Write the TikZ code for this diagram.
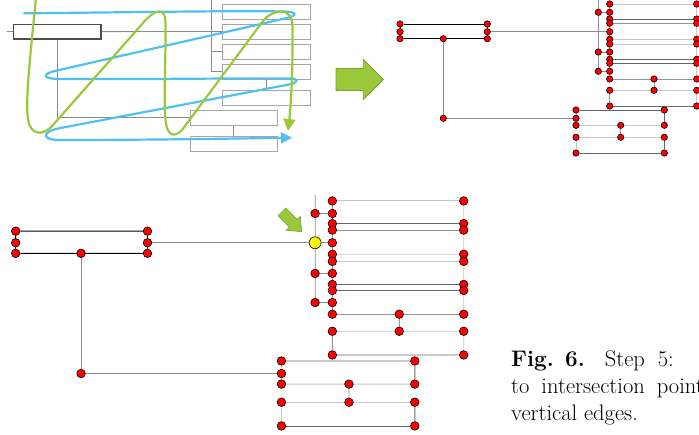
\documentclass[tikz,border=0pt]{standalone}
\usepackage{fontspec}
\usepackage{tikz}
\usetikzlibrary{arrows.meta}
\definecolor{blueline}{HTML}{4FC0F3}
\definecolor{greenline}{HTML}{9BC83A}
\definecolor{greenedge}{HTML}{7DA32C}
\definecolor{boxgray}{HTML}{A6A6A6}
\pgfdeclarelayer{edges}
\pgfsetlayers{edges,main}
\tikzset{
  box/.style={draw=boxgray, line width=0.9pt, inner sep=0pt, minimum height=15pt},
  mainbox/.style={box, draw=black!70, line width=1.1pt},
  wire/.style={draw=black!45, line width=0.8pt},
  edgemain/.style={draw=black, line width=0.9pt},
  edgedk/.style={draw=black!60, line width=0.9pt},
  edgemid/.style={draw=black!42, line width=0.9pt},
  edgelt/.style={draw=black!22, line width=0.9pt},
  dot/.style={circle, fill=red, draw=black, line width=0.6pt, inner sep=0pt, minimum size=6.4pt},
  newdot/.style={dot, fill=yellow, minimum size=12pt},
  sweep/.style={line width=2.2pt, line cap=round, line join=round},
  bigarrow/.style={fill=greenline, draw=greenedge, line width=0.8pt},
  captext/.style={anchor=base west, inner sep=0pt, font=\fontsize{22.5}{27.5}\selectfont},
}

% dotted version of the layout, #1 = name prefix
\newcommand{\dotgraph}[1]{%
  \node[dot] (#1a1) at (13.3,24) {};
  \node[dot] (#1a2) at (13.3,31.7) {};
  \node[dot] (#1a3) at (13.3,38.7) {};
  \node[dot] (#1b1) at (100.6,24) {};
  \node[dot] (#1b2) at (100.6,31.7) {};
  \node[dot] (#1b3) at (100.6,38.7) {};
  \node[dot] (#1c) at (56.6,38.7) {};
  \node[dot] (#1d) at (56.6,118.3) {};
  \coordinate (#1top) at (211.6,0);
  \foreach \i/\yt/\ym/\yb in {1/4/12.3/19,2/23.3/31.7/39.3,3/44/52/59.3,4/63.3/71.3/79}{
    \node[dot] (#1l\i t) at (223,\yt) {};
    \node[dot] (#1l\i m) at (223,\ym) {};
    \node[dot] (#1l\i b) at (223,\yb) {};
    \node[dot] (#1r\i t) at (310,\yt) {};
    \node[dot] (#1r\i b) at (310,\yb) {};
  }
  \foreach \i/\y in {1/12.3,3/52,4/71.3}
    \node[dot] (#1t\i) at (211.6,\y) {};
  \node[dot] (#1k4) at (267.3,79) {};
  \node[dot] (#1k5) at (267.3,90.3) {};
  \node[dot] (#1l5t) at (223,90.3) {};
  \node[dot] (#1r5t) at (310,90.3) {};
  \node[dot] (#1l5b) at (223,106) {};
  \node[dot] (#1r5b) at (310,106) {};
  % lower pair
  \node[dot] (#1u1t) at (189.3,110) {};
  \node[dot] (#1u1m) at (189.3,118.3) {};
  \node[dot] (#1u1b) at (189.3,125.3) {};
  \node[dot] (#1v1t) at (277.6,110) {};
  \node[dot] (#1v1b) at (277.6,125.3) {};
  \node[dot] (#1w1) at (234,125.3) {};
  \node[dot] (#1w2) at (234,137.3) {};
  \node[dot] (#1u2t) at (189.3,137.3) {};
  \node[dot] (#1v2t) at (277.6,137.3) {};
  \node[dot] (#1u2b) at (189.3,153) {};
  \node[dot] (#1v2b) at (277.6,153) {};
  \begin{pgfonlayer}{edges}
    \draw[edgemain] (#1a1) -- (#1b1) (#1a3) -- (#1b3) (#1a1) -- (#1a3) (#1b1) -- (#1b3);
    \draw[wire] (#1a2) -- ++(-3,0);
    \draw[wire] (#1b2) -- (#1l2m);
    \draw[wire] (#1c) -- (#1d) -- (#1u1m);
    \draw[wire] (#1top) -- (#1t4);
    \foreach \i in {1,3,4}
      \draw[wire] (#1t\i) -- (#1l\i m);
    \foreach \i/\st/\sb in {1/edgelt/edgedk,2/edgemid/edgelt,3/edgelt/edgedk,4/edgedk/edgemid,5/edgelt/edgedk}{
      \draw[\st] (#1l\i t) -- (#1r\i t);
      \draw[\sb] (#1l\i b) -- (#1r\i b);
      \draw[edgemid] (#1l\i t) -- (#1l\i b);
      \draw[edgelt] (#1r\i t) -- (#1r\i b);
    }
    \draw[edgemid] (#1k4) -- (#1k5);
    \draw[edgedk] (#1u1t) -- (#1v1t);
    \draw[edgelt] (#1u1b) -- (#1v1b);
    \draw[edgelt] (#1u2t) -- (#1v2t);
    \draw[edgedk] (#1u2b) -- (#1v2b);
    \draw[edgelt] (#1u1t) -- (#1u1b);
    \draw[edgedk] (#1v1t) -- (#1v1b);
    \draw[edgelt] (#1u2t) -- (#1u2b);
    \draw[edgedk] (#1v2t) -- (#1v2b);
    \draw[edgemid] (#1w1) -- (#1w2);
  \end{pgfonlayer}
}

\begin{document}
\begin{tikzpicture}[x=1pt,y=-1pt]
  \useasboundingbox (0,0) rectangle (699,435);
  \clip (0,0) rectangle (699,435);

  % sketch of the layout
  \node[mainbox, minimum width=87.7pt, minimum height=14.7pt] (mbox) at (57.15,31.65) {};
  \foreach \i/\y in {1/11.5,2/31.5,3/51.5,4/71.5,5/97.5}
    \node[box, minimum width=88pt] (rb\i) at (266.7,\y) {};
  \node[box, minimum width=87.3pt] (lb1) at (233.7,117.8) {};
  \node[box, minimum width=87.3pt] (lb2) at (233.7,144.2) {};
  \coordinate (trunk) at (211.7,0);
  \draw[wire] (mbox.west) -- ++(-6,0);
  \draw[wire] (mbox.east) -- (rb2.west);
  \draw[wire] (trunk) |- (rb4.west);
  \draw[wire] (rb1.west -| trunk) -- (rb1.west);
  \draw[wire] (rb3.west -| trunk) -- (rb3.west);
  \draw[wire] (mbox.south) |- (lb1.west);
  \draw[wire] (rb4.south) -- (rb5.north);
  \draw[wire] (lb1.south) -- (lb2.north);

  % sweep orders
  \draw[sweep, draw=blueline, -{Triangle[length=11pt,width=11pt]}]
    (24,13.3) .. controls (120,12.5) and (230,10.5) .. (284,11.5)
    .. controls (298,12) and (298,15.5) .. (285,18.5)
    -- (57,70.5)
    .. controls (41,74) and (42,79) .. (60,79)
    .. controls (150,79.5) and (240,78) .. (290,78.5)
    .. controls (299,79) and (299,82.2) .. (289,84.5)
    -- (58,128.5)
    .. controls (42,132) and (41,140) .. (60,140)
    .. controls (150,140) and (240,138.5) .. (292,137.7);
  \draw[sweep, draw=greenline, -{Triangle[length=12pt,width=12pt]}]
    (36,-3) .. controls (31,50) and (25,100) .. (28,119)
    .. controls (30,136) and (44,136) .. (53,125)
    -- (143,23)
    .. controls (153,11) and (165,5) .. (165.5,22)
    .. controls (166,60) and (163,110) .. (166,123)
    .. controls (168,139) and (178,137) .. (185,126)
    -- (263,21)
    .. controls (273,9) and (292,6) .. (292.5,26)
    .. controls (293,70) and (291,105) .. (288,131);

  \draw[bigarrow] (336,68.5) -- (363.3,68.5) -- (363.3,59.5) -- (383.3,79.5)
    -- (363.3,99.5) -- (363.3,90.5) -- (336,90.5) -- cycle;

  % step 4 result
  \begin{scope}[shift={(386.7,0)}]
    \dotgraph{p}
  \end{scope}

  % step 5, enlarged
  \begin{scope}[shift={(-4.4,194.9)}, scale=1.51, dot/.append style={minimum size=8.6pt}]
    \dotgraph{q}
    \node[newdot] (qx) at (211.6,31.7) {};
  \end{scope}
  \begin{scope}[shift={(301.7,231.7)}, rotate=-45]
    \draw[bigarrow, line width=0.6pt] (0,0) -- (-12,10) -- (-12,5.5) -- (-28,5.5)
      -- (-28,-5.5) -- (-12,-5.5) -- (-12,-10) -- cycle;
  \end{scope}

  \node[captext] (cap1) at (511,367) {\textbf{Fig. 6.}\hspace{20pt}Step\hspace{13pt}5:};
  \node[captext] (cap2) at (511,394) {to\hspace{12pt}intersection\hspace{12pt}points};
  \node[captext] (cap3) at (511,421) {vertical edges.};
\end{tikzpicture}
\end{document}
